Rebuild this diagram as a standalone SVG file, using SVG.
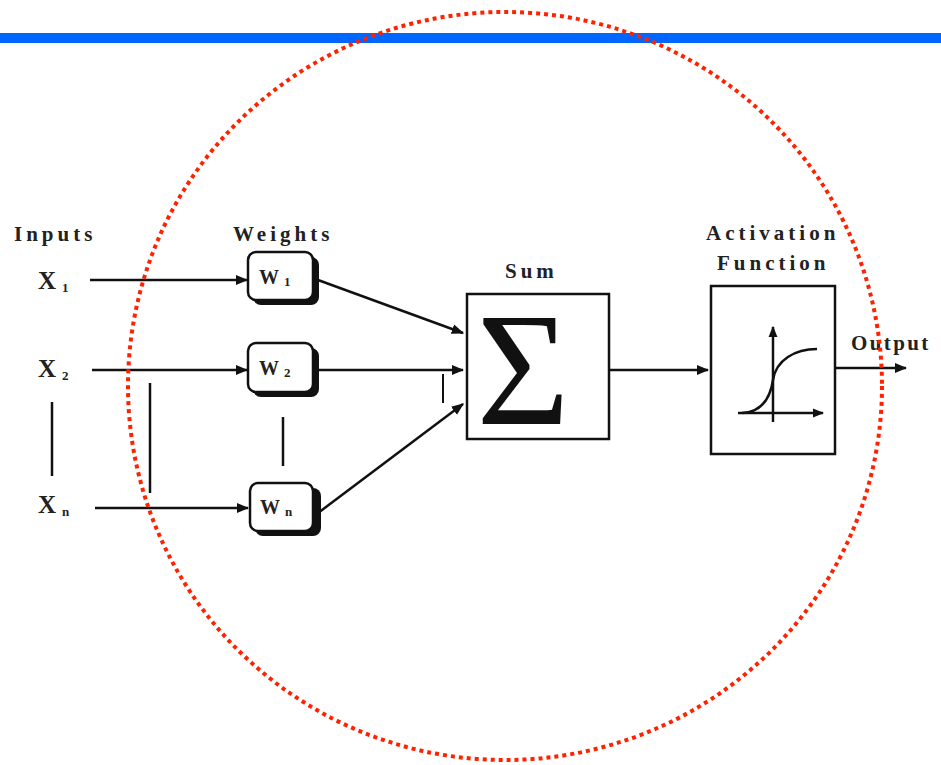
<svg xmlns="http://www.w3.org/2000/svg" width="941" height="765" viewBox="0 0 941 765">
<defs>
<style>
.t{font-family:"Liberation Serif","Times New Roman",serif;font-weight:bold;fill:#222;}
.lab{font-size:21px;letter-spacing:4px;}
.x{font-size:25px;}
.sub{font-size:13px;}
.ln{stroke:#111;stroke-width:2.5;fill:none;}
.box{fill:#fff;stroke:#111;stroke-width:2.5;}
.sh{fill:#111;}
</style>
<marker id="ah" viewBox="0 0 10 10" refX="9" refY="5" markerWidth="5" markerHeight="5" orient="auto" markerUnits="strokeWidth"><path d="M0,1 L10,5 L0,9 Z" fill="#111"/></marker>
<marker id="ah2" viewBox="0 0 10 10" refX="9" refY="5" markerWidth="4.5" markerHeight="4.5" orient="auto" markerUnits="strokeWidth"><path d="M0,1 L10,5 L0,9 Z" fill="#111"/></marker>
</defs>
<rect width="941" height="765" fill="#fff"/>
<rect x="0" y="33" width="941" height="10" fill="#0066ff"/>

<g id="labels">
<text class="t lab" x="14" y="241">Inputs</text>
<text class="t lab" x="233" y="241">Weights</text>
<text class="t lab" x="505" y="278">Sum</text>
<text class="t lab" x="706" y="240">Activation</text>
<text class="t lab" x="717" y="270">Function</text>
<text class="t lab" x="851" y="350" style="letter-spacing:2.4px">Output</text>
</g>

<g id="inputs">
<text class="t x" x="38" y="289">X<tspan class="sub" dx="6" dy="3">1</tspan></text>
<text class="t x" x="38" y="377">X<tspan class="sub" dx="6" dy="3">2</tspan></text>
<text class="t x" x="38" y="513">X<tspan class="sub" dx="6" dy="3">n</tspan></text>
</g>

<g id="connectors">
<line class="ln" x1="90" y1="280" x2="247" y2="280" marker-end="url(#ah)"/>
<line class="ln" x1="92" y1="370" x2="247" y2="370" marker-end="url(#ah)"/>
<line class="ln" x1="95" y1="508" x2="248" y2="508" marker-end="url(#ah)"/>
<line class="ln" x1="52" y1="402" x2="52" y2="476"/>
<line class="ln" x1="150" y1="383" x2="150" y2="493"/>
<line class="ln" x1="283" y1="417" x2="283" y2="466"/>
<line class="ln" x1="318" y1="280" x2="463" y2="333" marker-end="url(#ah)"/>
<line class="ln" x1="318" y1="370" x2="463" y2="370" marker-end="url(#ah)"/>
<line class="ln" x1="318" y1="513" x2="463" y2="404" marker-end="url(#ah)"/>
<line x1="443" y1="374" x2="443" y2="403" stroke="#111" stroke-width="2"/>
<line class="ln" x1="610" y1="370" x2="708" y2="370" marker-end="url(#ah)"/>
<line class="ln" x1="836" y1="368" x2="906" y2="368" marker-end="url(#ah)"/>
</g>

<g id="w1">
<rect class="sh" x="253" y="257" width="66" height="48" rx="8"/>
<rect class="box" x="248" y="252" width="65" height="48" rx="8"/>
<text class="t x" x="259" y="284" style="font-size:20px">W<tspan class="sub" dx="5" dy="2">1</tspan></text>
</g>
<g id="w2">
<rect class="sh" x="253" y="348" width="66" height="49" rx="8"/>
<rect class="box" x="248" y="343" width="65" height="49" rx="8"/>
<text class="t x" x="259" y="375" style="font-size:20px">W<tspan class="sub" dx="5" dy="2">2</tspan></text>
</g>
<g id="wn">
<rect class="sh" x="255" y="488" width="66" height="48" rx="8"/>
<rect class="box" x="250" y="483" width="63" height="48" rx="8"/>
<text class="t x" x="260" y="514" style="font-size:20px">W<tspan class="sub" dx="5" dy="2">n</tspan></text>
</g>

<g id="sum">
<rect class="box" x="467" y="294" width="142" height="145" stroke-width="3"/>
<text x="523" y="424" text-anchor="middle" style="font-family:'Liberation Serif','Times New Roman',serif;font-size:160px;fill:#111">Σ</text>
</g>

<g id="activation">
<rect class="box" x="711" y="286" width="124" height="168" stroke-width="3"/>
<line class="ln" x1="773" y1="422" x2="773" y2="327" stroke-width="2.5" marker-end="url(#ah2)"/>
<line class="ln" x1="738" y1="413" x2="823" y2="413" stroke-width="2.5" marker-end="url(#ah2)"/>
<path class="ln" stroke-width="2" d="M742,413 C760,412 770,400 773,380 C776,360 795,349 817,349"/>
</g>

<ellipse cx="505" cy="386" rx="377" ry="374" fill="none" stroke="#ff2200" stroke-width="4" stroke-dasharray="4 4"/>
</svg>
